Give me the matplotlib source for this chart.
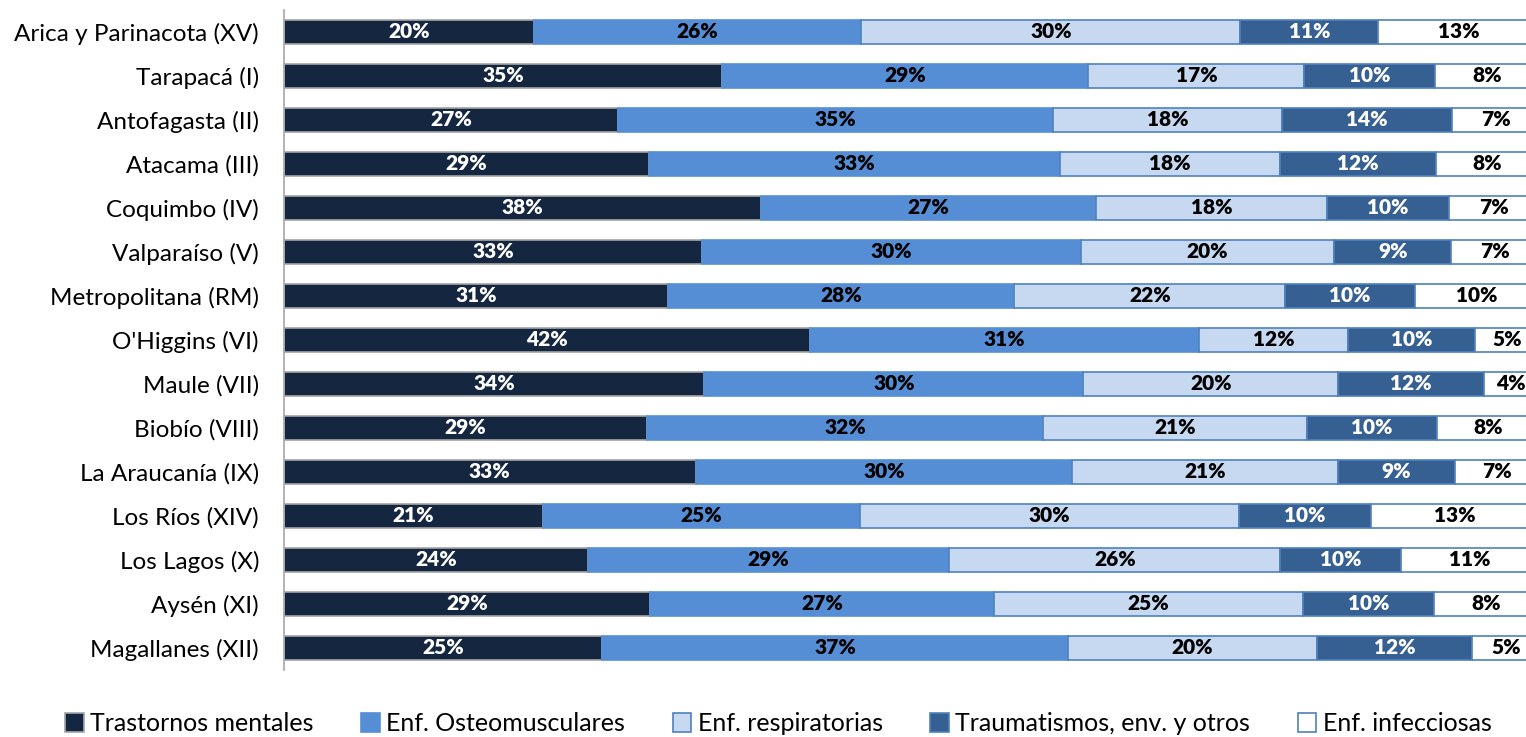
import numpy as np
import matplotlib
matplotlib.use("Agg")
import matplotlib.pyplot as plt
from matplotlib.patches import Patch

plt.rcParams['font.family'] = ['Lato', 'DejaVu Sans']

# ── Datos (% por región) ─────────────────────────────────────────────
regiones = [
    "Arica y Parinacota (XV)", "Tarapacá (I)", "Antofagasta (II)", "Atacama (III)",
    "Coquimbo (IV)", "Valparaíso (V)", "Metropolitana (RM)", "O'Higgins (VI)",
    "Maule (VII)", "Biobío (VIII)", "La Araucanía (IX)", "Los Ríos (XIV)",
    "Los Lagos (X)", "Aysén (XI)", "Magallanes (XII)",
]
trastornos = [19.9, 34.9, 26.6, 29.1, 38.0, 33.3, 30.6, 41.9, 33.5, 28.9, 32.8, 20.6, 24.2, 29.2, 25.3]
osteo      = [26.1, 29.2, 34.7, 32.7, 26.7, 30.2, 27.6, 31.0, 30.2, 31.6, 30.0, 25.3, 28.8, 27.4, 37.2]
respir     = [30.2, 17.2, 18.2, 17.6, 18.4, 20.2, 21.6, 11.9, 20.3, 21.0, 21.2, 30.2, 26.4, 24.6, 19.8]
trauma     = [11.0, 10.4, 13.6, 12.4, 9.7, 9.3, 10.3, 10.1, 11.6, 10.4, 9.3, 10.5, 9.6, 10.4, 12.4]
infecc     = [12.8, 8.3, 6.9, 8.2, 7.2, 7.0, 9.9, 5.1, 4.4, 8.1, 6.7, 13.4, 11.0, 8.4, 5.3]

series = ["Trastornos mentales", "Enf. Osteomusculares", "Enf. respiratorias",
          "Traumatismos, env. y otros", "Enf. infecciosas"]
valores = [trastornos, osteo, respir, trauma, infecc]
colores = ["#152641", "#558ED5", "#C6D9F1", "#376092", "#FFFFFF"]
bordes = ["#A6A6A6", "#558ED5", "#4F81BD", "#4F81BD", "#4F81BD"]
col_texto = ["white", "black", "black", "white", "black"]

fig = plt.figure(figsize=(15.26, 7.37), dpi=100)
ax = fig.add_axes([284 / 1526, 1 - 670 / 737, 1255 / 1526, 660 / 737])

y = np.arange(len(regiones))
izq = np.zeros(len(regiones))
for nombre, vals, c, b, tc in zip(series, valores, colores, bordes, col_texto):
    vals = np.array(vals)
    ax.barh(y, vals, left=izq, height=0.55, color=c, edgecolor=b,
            linewidth=1.2, label=nombre)
    for xi, yi, v in zip(izq + vals / 2, y, vals):
        ax.text(xi, yi, f"{v:.0f}%", ha="center", va="center", color=tc,
                fontsize=15, fontweight="heavy")
    izq += vals

ax.set_xlim(0, 100)
ax.set_ylim(len(regiones) - 0.5, -0.5)
ax.set_yticks(y)
ax.set_yticklabels(regiones, fontsize=17.5)
ax.tick_params(axis="y", length=0, pad=18)
ax.set_xticks([])
for s in ["top", "right", "bottom"]:
    ax.spines[s].set_visible(False)
ax.spines["left"].set_color("#A6A6A6")
ax.spines["left"].set_linewidth(1.2)

handles = [Patch(facecolor=c, edgecolor=b, linewidth=1.2) for c, b in zip(colores, bordes)]
fig.legend(handles, series, loc="lower center", bbox_to_anchor=(0.51, -0.028), ncol=5,
           frameon=False, fontsize=18, handlelength=0.75, handleheight=0.75,
           handletextpad=0.25, columnspacing=1.9)

fig.savefig("out.png", dpi=100)
